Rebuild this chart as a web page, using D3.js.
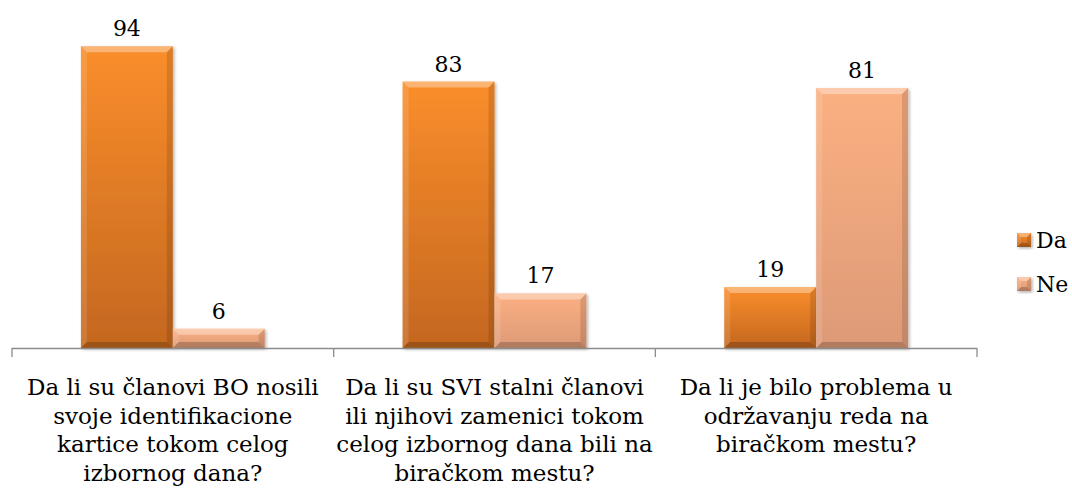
<!DOCTYPE html>
<html>
<head>
<meta charset="utf-8">
<script src="https://cdn.jsdelivr.net/npm/d3@7"></script>
<style>
  body { margin: 0; background: #fff; }
  svg { display: block; }
</style>
</head>
<body>
<div id="chart"></div>
<script>
  const categories = [
    ["Da li su članovi BO nosili", "svoje identifikacione", "kartice tokom celog", "izbornog dana?"],
    ["Da li su SVI stalni članovi", "ili njihovi zamenici tokom", "celog izbornog dana bili na", "biračkom mestu?"],
    ["Da li je bilo problema u", "održavanju reda na", "biračkom mestu?"]
  ];
  const seriesNames = ["Da", "Ne"];
  const daValues = [94, 83, 19];
  const neValues = [6, 17, 81];

  const width = 1072, height = 495;
  const fontFamily = "'DejaVu Serif', Georgia, serif";

  const svg = d3.select('#chart').append('svg')
      .attr('width', width)
      .attr('height', height);

  const defs = svg.append('defs');
  const grads = [
    {id: 'gDa', top: '#fa8e2c', bottom: '#c4671f'},
    {id: 'gNe', top: '#fbb081', bottom: '#dd9a77'}
  ];
  grads.forEach(g => {
    const lg = defs.append('linearGradient').attr('id', g.id)
        .attr('x1', 0).attr('y1', 0).attr('x2', 0).attr('y2', 1);
    lg.append('stop').attr('offset', '0%').attr('stop-color', g.top);
    lg.append('stop').attr('offset', '100%').attr('stop-color', g.bottom);
  });
  const shadow = defs.append('filter').attr('id', 'shadow')
      .attr('x', '-20%').attr('y', '-20%').attr('width', '140%').attr('height', '140%');
  shadow.append('feDropShadow').attr('dx', 1.5).attr('dy', 1.5)
      .attr('stdDeviation', 1.5).attr('flood-color', '#000').attr('flood-opacity', 0.3);

  const x0 = d3.scaleBand()
      .domain(d3.range(categories.length))
      .range([12, 977])
      .paddingInner(0).paddingOuter(0);

  const x1 = d3.scaleBand()
      .domain(seriesNames)
      .range([0, x0.bandwidth()])
      .paddingInner(0)
      .paddingOuter(0.75);

  const y = d3.scaleLinear().domain([0, 100]).range([348, 27]);

  const data = categories.map((c, i) => ({
    i: i,
    values: [
      {key: 'Da', value: daValues[i]},
      {key: 'Ne', value: neValues[i]}
    ]
  }));

  function drawBar(g, bx, by, bw, bh, gradId, bev) {
    const b = Math.min(bev, bh / 2);
    g.append('rect')
        .attr('x', bx).attr('y', by).attr('width', bw).attr('height', bh)
        .attr('fill', `url(#${gradId})`)
        .attr('filter', 'url(#shadow)');
    // bevel edges
    const x2 = bx + bw, y2 = by + bh;
    g.append('polygon')
        .attr('points', `${bx},${by} ${x2},${by} ${x2 - b},${by + b} ${bx + b},${by + b}`)
        .attr('fill', '#fff').attr('opacity', 0.35);
    g.append('polygon')
        .attr('points', `${bx},${by} ${bx + b},${by + b} ${bx + b},${y2 - b} ${bx},${y2}`)
        .attr('fill', '#fff').attr('opacity', 0.12);
    g.append('polygon')
        .attr('points', `${x2},${by} ${x2},${y2} ${x2 - b},${y2 - b} ${x2 - b},${by + b}`)
        .attr('fill', '#000').attr('opacity', 0.12);
    g.append('polygon')
        .attr('points', `${bx},${y2} ${x2},${y2} ${x2 - b},${y2 - b} ${bx + b},${y2 - b}`)
        .attr('fill', '#000').attr('opacity', 0.2);
  }

  const groups = svg.append('g').selectAll('g.group')
      .data(data)
      .enter().append('g')
      .attr('class', 'group')
      .attr('transform', d => `translate(${x0(d.i)},0)`);

  groups.each(function(d) {
    const g = d3.select(this);
    d.values.forEach(v => {
      const bx = x1(v.key), bw = x1.bandwidth();
      const by = y(v.value), bh = y(0) - y(v.value);
      drawBar(g, bx, by, bw, bh, v.key === 'Da' ? 'gDa' : 'gNe', 6);
      g.append('text')
          .attr('x', bx + bw / 2)
          .attr('y', by - 10)
          .attr('text-anchor', 'middle')
          .attr('font-family', fontFamily)
          .attr('font-size', '22px')
          .attr('fill', '#000')
          .text(v.value);
    });
  });

  // axis line and ticks
  const axis = svg.append('g');
  axis.append('line')
      .attr('x1', 12).attr('x2', 977).attr('y1', 348.5).attr('y2', 348.5)
      .attr('stroke', '#8c8c8c').attr('stroke-width', 1.3);
  const tickPos = d3.range(categories.length).map(i => x0(i)).concat([x0.range()[1]]);
  axis.selectAll('line.tick').data(tickPos).enter().append('line')
      .attr('class', 'tick')
      .attr('x1', d => d).attr('x2', d => d)
      .attr('y1', 348).attr('y2', 357)
      .attr('stroke', '#8c8c8c').attr('stroke-width', 1.3);

  // category labels
  data.forEach(d => {
    const t = svg.append('text')
        .attr('text-anchor', 'middle')
        .attr('font-family', fontFamily)
        .attr('font-size', '23px')
        .attr('fill', '#000');
    categories[d.i].forEach((line, k) => {
      t.append('tspan')
          .attr('x', x0(d.i) + x0.bandwidth() / 2)
          .attr('y', 395 + k * 28.5)
          .text(line);
    });
  });

  // legend
  const legend = svg.append('g');
  seriesNames.forEach((name, k) => {
    const ly = 240 + k * 44;
    const lg = legend.append('g');
    drawBar(lg, 1017, ly - 7, 14, 14, name === 'Da' ? 'gDa' : 'gNe', 4);
    lg.append('text')
        .attr('x', 1036).attr('y', ly + 8)
        .attr('font-family', fontFamily)
        .attr('font-size', '22px')
        .attr('fill', '#000')
        .text(name);
  });
</script>
</body>
</html>
